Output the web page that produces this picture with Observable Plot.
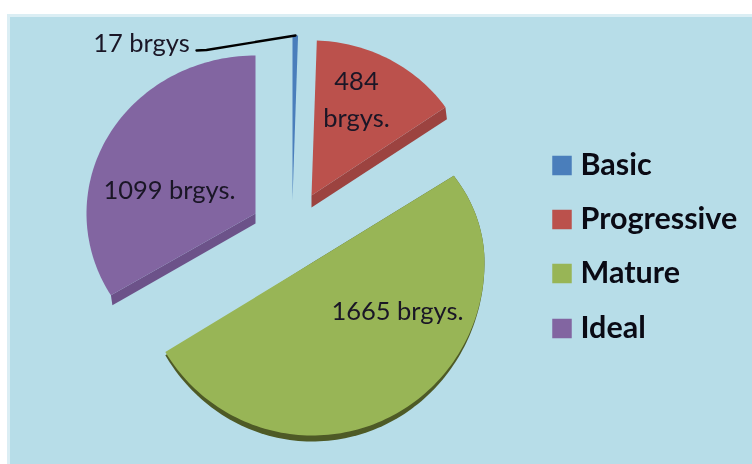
<!DOCTYPE html>
<html>
<head>
<meta charset="utf-8">
<script src="https://cdn.jsdelivr.net/npm/d3@7"></script>
<script src="https://cdn.jsdelivr.net/npm/@observablehq/plot@0.6"></script>
<style>
  html, body { margin: 0; padding: 0; background: #fff; }
  svg { display: block; filter: blur(0.5px); }
</style>
</head>
<body>
<div id="chart"></div>
<script>
// Data
const categories = ["Basic", "Progressive", "Mature", "Ideal"];
const barangays = [17, 484, 1665, 1099];
const sliceLabels = ["17 brgys", "484\nbrgys.", "1665 brgys.", "1099 brgys."];
const colors = ["#4a7ebb", "#bb514c", "#98b556", "#8265a1"];
const sideColors = ["#4a7ebb", "#9c4340", "#4e5a26", "#6c5289"];

// Layout of the exploded, tilted pie (pixels in the identity x/y scales).
// Perspective: the far half of each ellipse (ryFar) is flatter than the near half (ryNear).
const W = 752, H = 464;
const geometry = {
  Basic:       {cx: 292, cy: 200, rx: 170, ryFar: 165, ryNear: 165},
  Progressive: {cx: 311, cy: 195, rx: 163, ryFar: 155, ryNear: 155, depth: 12, chord: "end"},
  Mature:      {cx: 312, cy: 262, rx: 172, ryFar: 152, ryNear: 173, grow: 6},
  Ideal:       {cx: 255, cy: 213, rx: 169, ryFar: 158, ryNear: 158, depth: 10, chord: "start"}
};
const labelPositions = [[141, 43], [356, 100], [397, 311], [169, 190]];
const legendY = [165, 219, 273, 328];

const total = d3.sum(barangays);
let cum = 0;
const topFaces = [], sideFaces = [];
categories.forEach((name, i) => {
  const a0 = cum / total * 2 * Math.PI;
  cum += barangays[i];
  const a1 = cum / total * 2 * Math.PI;
  const g = geometry[name];
  const steps = Math.max(2, Math.ceil((a1 - a0) * 40));
  const pt = (a, grow = 0) => {
    const c = Math.cos(a);
    const ry = c > 0 ? g.ryFar : g.ryNear + grow;
    return {name, i, x: g.cx + g.rx * Math.sin(a), y: g.cy - ry * c};
  };
  const arc = (grow) => {
    const out = [{name, i, x: g.cx, y: g.cy}];
    for (let s = 0; s <= steps; ++s) out.push(pt(a0 + (a1 - a0) * s / steps, grow));
    return out;
  };
  topFaces.push(...arc(0));
  if (g.grow) sideFaces.push(...arc(g.grow));
  if (g.depth) {
    const corner = pt(g.chord === "start" ? a0 : a1);
    sideFaces.push(
      {name, i, x: g.cx, y: g.cy},
      {name, i, x: g.cx, y: g.cy + g.depth},
      {name, i, x: corner.x + 1.5, y: corner.y + g.depth},
      corner
    );
  }
});

const labels = sliceLabels.flatMap((t, i) => {
  const [x, y] = labelPositions[i];
  const lines = t.split("\n");
  return lines.map((line, k) => ({line, x, y: y + (k - (lines.length - 1) / 2) * 37}));
});
const legend = categories.map((name, i) => ({name, y: legendY[i]}));
const leader = [{x: 196, y: 50}, {x: 206, y: 49.5}, {x: 295, y: 35}];

const plot = Plot.plot({
  width: W, height: H,
  margin: 0,
  style: {background: "#ffffff", overflow: "hidden"},
  x: {domain: [0, W], range: [0, W], axis: null},
  y: {domain: [0, H], range: [0, H], axis: null},
  color: {domain: categories, range: colors, legend: false},
  marks: [
    Plot.rect([{}], {x1: 7, x2: W, y1: 14, y2: H, fill: "#dbeef4"}),
    Plot.rect([{}], {x1: 10, x2: W, y1: 17, y2: H, fill: "#b7dde8"}),
    Plot.line(sideFaces, {x: "x", y: "y", z: "name", stroke: "none",
      fill: {value: d => sideColors[d.i], scale: null}}),
    Plot.line(topFaces, {x: "x", y: "y", z: "name", fill: "name", stroke: "none"}),
    Plot.line(leader, {x: "x", y: "y", stroke: "#000", strokeWidth: 2.4}),
    Plot.text(labels, {x: "x", y: "y", text: "line", fontFamily: "Lato", fontSize: 25.5, fill: "#1a1626"}),
    Plot.dot(legend, {x: 561.5, y: "y", symbol: "square", r: 11, fill: "name", stroke: "none"}),
    Plot.text(legend, {x: 580, y: "y", text: "name", textAnchor: "start", fontFamily: "Lato",
      fontWeight: 700, fontSize: 30.5, fill: "#0a0a14"})
  ]
});
document.getElementById("chart").append(plot);
</script>
</body>
</html>
